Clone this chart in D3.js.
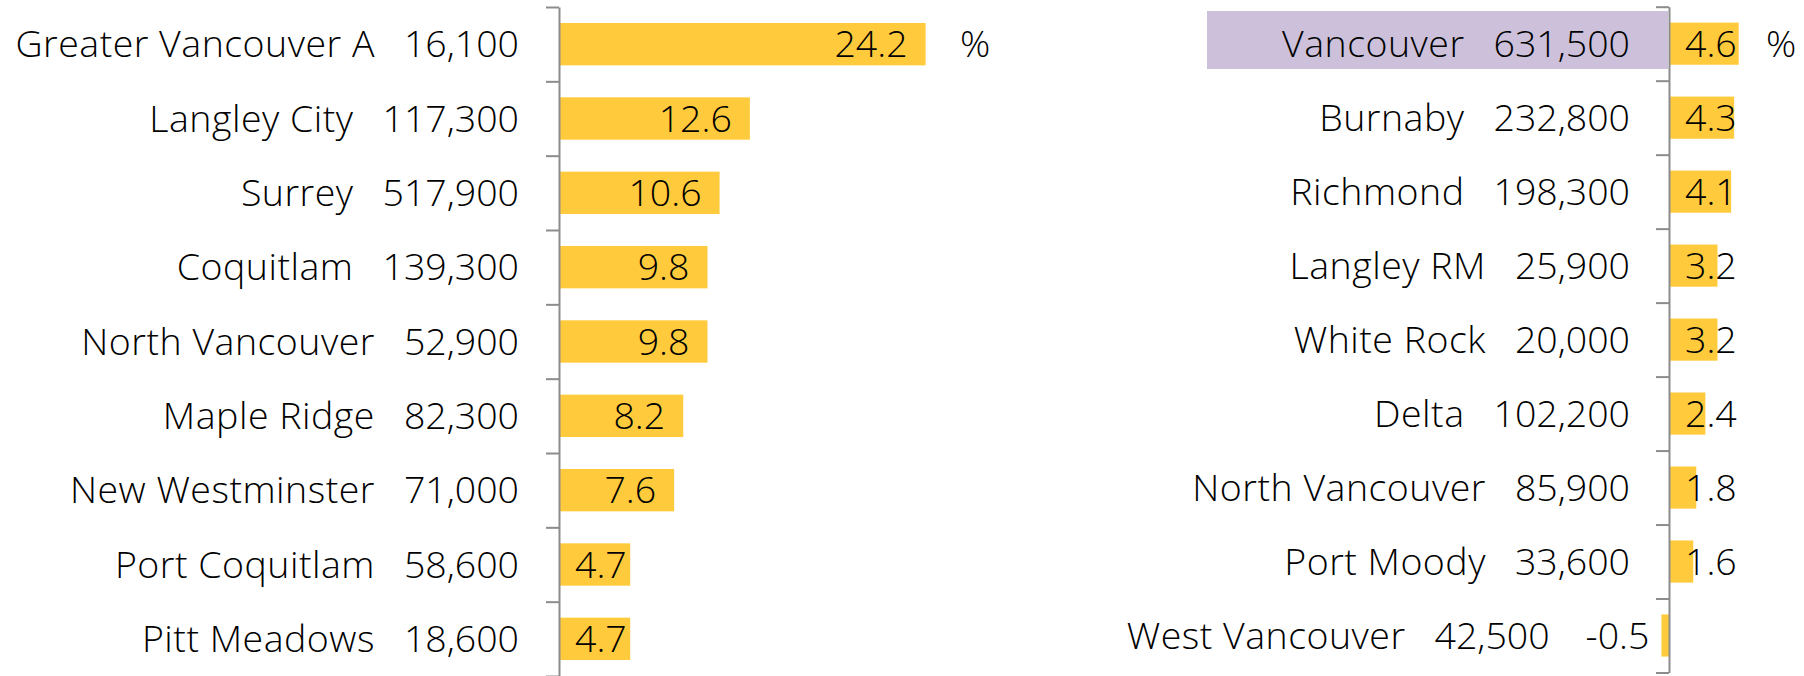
<!DOCTYPE html>
<html>
<head>
<meta charset="utf-8">
<script src="https://cdn.jsdelivr.net/npm/d3@7"></script>
<style>
  html, body { margin: 0; padding: 0; background: #fff; }
  svg { display: block; }
  text { font-family: 'Open Sans', 'Noto Sans', sans-serif; font-weight: 300; fill: #000; }
  tspan.name { letter-spacing: 0.5px; }
</style>
</head>
<body>
<svg id="chart" width="1804" height="676"></svg>
<script>
// ---- data ----
const leftNames = ["Greater Vancouver A","Langley City","Surrey","Coquitlam","North Vancouver","Maple Ridge","New Westminster","Port Coquitlam","Pitt Meadows"];
const leftPop = [16100,117300,517900,139300,52900,82300,71000,58600,18600];
const leftVals = [24.2,12.6,10.6,9.8,9.8,8.2,7.6,4.7,4.7];

const rightNames = ["Vancouver","Burnaby","Richmond","Langley RM","White Rock","Delta","North Vancouver","Port Moody","West Vancouver"];
const rightPop = [631500,232800,198300,25900,20000,102200,85900,33600,42500];
const rightVals = [4.6,4.3,4.1,3.2,3.2,2.4,1.8,1.6,-0.5];
const rightHighlight = "Vancouver";
const unitLabel = "%";

// ---- style ----
const FONT = 37.5;
const BAR = "#FFCB3D";
const HILITE = "#CCC0DA";
const AXIS = "#8C8C8C";
const PX_PER_UNIT = 15.15;

const svg = d3.select("#chart");
const loc = d3.formatLocale({ decimal: ".", thousands: ",", grouping: [3], currency: ["$", ""], minus: "-" });
const fmtPop = loc.format(",");
const fmtVal = loc.format(".1f");

function panel(cfg) {
  const { names, pops, vals, axisX, y0, y1, labelGap, highlight } = cfg;
  const n = names.length;
  const y = d3.scaleBand().domain(names).range([y0, y1]).paddingInner(0.43).paddingOuter(0.215);
  const x = d3.scaleLinear().domain([0, 10]).range([axisX, axisX + 10 * PX_PER_UNIT]);
  const g = svg.append("g");

  // highlight box behind category label
  if (highlight) {
    const step = y.step();
    const top = y0 + names.indexOf(highlight) * step;
    g.append("rect")
      .attr("x", axisX - 462).attr("y", top + 4.3)
      .attr("width", 461).attr("height", 58)
      .attr("fill", HILITE);
  }

  // bars
  g.selectAll("rect.bar").data(vals).join("rect")
    .attr("class", "bar")
    .attr("x", d => Math.min(x(0), x(d)))
    .attr("width", d => Math.abs(x(d) - x(0)))
    .attr("y", (d, i) => y(names[i]))
    .attr("height", y.bandwidth())
    .attr("fill", BAR);

  // axis with ticks between categories
  const yb = d3.scaleLinear().domain([0, n]).range([y0, y1]);
  const ax = g.append("g").attr("transform", `translate(${axisX},0)`)
    .call(d3.axisLeft(yb).tickValues(d3.range(n + 1)).tickSize(13).tickSizeOuter(0).tickFormat(""));
  ax.select(".domain").attr("stroke", AXIS).attr("stroke-width", 2);
  ax.selectAll(".tick line").attr("stroke", AXIS).attr("stroke-width", 2);

  // value labels
  vals.forEach((v, i) => {
    const cy = y(names[i]) + y.bandwidth() / 2;
    const base = cy + 0.35 * FONT;
    if (v >= 0) {
      const t = g.append("text").attr("font-size", FONT).attr("y", base).text(fmtVal(v));
      const w = t.node().getComputedTextLength();
      const end = Math.max(x(v) - 18, axisX + 16 + w);
      t.attr("x", end).attr("text-anchor", "end");
      // category label
      const c = g.append("text").attr("font-size", FONT).attr("y", base)
        .attr("x", axisX - labelGap).attr("text-anchor", "end");
      c.append("tspan").attr("class", "name").text(names[i]);
      c.append("tspan").attr("dx", 29).text(fmtPop(pops[i]));
    } else {
      const c = g.append("text").attr("font-size", FONT).attr("y", base)
        .attr("x", x(v) - 12).attr("text-anchor", "end");
      c.append("tspan").attr("class", "name").text(names[i]);
      c.append("tspan").attr("dx", 29).text(fmtPop(pops[i]));
      c.append("tspan").attr("dx", 36).text(fmtVal(v));
    }
  });

  return { x, y };
}

const L = panel({ names: leftNames, pops: leftPop, vals: leftVals, axisX: 559, y0: 7, y1: 676, labelGap: 40 });
const R = panel({ names: rightNames, pops: rightPop, vals: rightVals, axisX: 1669, y0: 6.7, y1: 672.5, labelGap: 39, highlight: rightHighlight });

// unit labels
const b0L = L.y(leftNames[0]) + L.y.bandwidth() / 2 + 0.35 * FONT;
svg.append("text").attr("font-size", FONT).attr("x", 960).attr("y", b0L).text(unitLabel);
const b0R = R.y(rightNames[0]) + R.y.bandwidth() / 2 + 0.35 * FONT;
svg.append("text").attr("font-size", FONT).attr("x", 1766).attr("y", b0R).text(unitLabel);
</script>
</body>
</html>
